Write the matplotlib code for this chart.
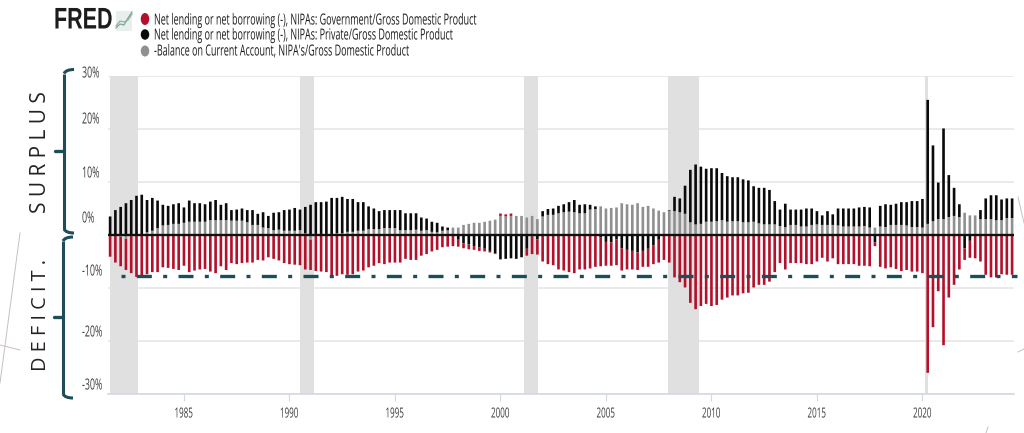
import matplotlib
matplotlib.use('Agg')
import matplotlib.pyplot as plt
import matplotlib.patheffects as pe
import numpy as np
from matplotlib.patches import Ellipse, PathPatch, Rectangle
from matplotlib.path import Path
from matplotlib.transforms import Affine2D

# quarterly, percent of GDP, first bar = 1981 Q3
gov = [-3.9,-5.0,-5.6,-5.9,-7.0,-7.9,-8.1,-7.4,-7.0,-7.0,-6.1,-6.2,-6.4,-6.6,-5.8,-7.0,-6.7,-6.5,-6.4,-6.9,-7.2,-5.9,-6.6,-5.3,-5.5,-5.3,-5.2,-5.2,-4.7,-4.8,
       -4.2,-4.5,-4.8,-5.3,-5.5,-5.6,-5.7,-6.5,-5.7,-6.8,-6.9,-7.0,-7.7,-7.7,-7.4,-7.5,-7.4,-6.9,-6.7,-6.1,-5.8,-5.3,-5.5,-5.2,-5.2,-5.2,-4.5,-4.7,-4.7,-3.9,
       -3.6,-3.1,-2.8,-2.3,-2.2,-2.1,-1.3,-0.9,-0.9,-0.7,-0.7,-0.5,-0.3,-0.1,0.45,0.4,0.45,0.0,0.0,-1.3,-3.3,-2.9,-5.0,-5.5,-5.7,-6.5,-6.7,-7.0,-7.2,-6.5,
       -6.5,-6.3,-6.0,-5.4,-4.5,-4.4,-4.9,-4.2,-3.7,-3.5,-3.3,-3.0,-3.4,-3.5,-4.3,-4.7,-5.2,-8.0,-8.9,-9.9,-12.8,-14.0,-13.4,-13.0,-13.4,-13.2,-12.2,-11.8,-11.4,-11.4,
       -11.0,-10.9,-9.9,-9.4,-9.4,-8.8,-7.0,-5.3,-6.5,-5.3,-5.3,-5.3,-5.5,-5.5,-5.0,-4.3,-5.0,-4.4,-5.5,-5.5,-5.5,-5.5,-5.8,-5.8,-5.9,-0.7,-6.0,-6.3,-6.1,-6.4,
       -6.8,-6.6,-6.9,-6.9,-7.2,-26.0,-17.4,-10.6,-20.8,-11.8,-9.4,-6.5,-2.2,-3.2,-4.4,-5.0,-7.5,-8.0,-8.0,-7.4,-7.5,-7.5]
private = [3.5,4.7,5.3,6.0,6.6,7.4,7.5,6.1,6.2,5.2,3.9,3.6,3.7,3.9,2.9,4.0,3.5,3.5,3.3,3.5,3.8,2.9,3.2,2.0,2.1,2.3,2.3,2.8,2.1,2.9,
           2.3,3.3,3.3,3.9,4.0,4.3,3.9,5.0,5.7,6.0,6.0,6.1,6.8,6.7,6.9,6.2,6.2,5.4,5.4,4.3,3.9,3.4,3.4,3.4,3.4,3.8,3.2,3.2,3.1,2.5,
           2.2,1.9,1.8,0.8,0.5,0.0,-0.9,-1.6,-1.8,-2.1,-2.3,-2.6,-3.0,-3.5,-4.6,-4.5,-4.4,-4.5,-4.2,-2.6,-0.3,-0.8,1.0,1.1,1.2,1.4,1.5,1.8,2.3,1.6,
           1.7,0.9,0.5,-0.5,-1.3,-1.4,-0.8,-2.5,-2.8,-3.0,-3.3,-3.0,-2.6,-2.0,-0.9,0.0,0.1,2.7,2.6,5.3,9.9,11.3,10.8,10.0,10.1,10.0,8.9,8.6,8.3,8.3,
           8.1,7.9,6.7,6.7,6.9,6.5,4.4,3.1,4.4,2.9,2.9,3.2,3.4,3.1,2.5,1.8,2.6,2.0,3.2,3.4,3.4,3.4,3.6,3.6,3.8,-1.4,3.9,4.3,3.8,4.0,
           4.3,4.4,4.9,4.9,5.4,23.4,14.3,6.9,17.1,7.9,5.3,2.4,-2.5,-1.1,0.0,1.7,3.9,4.5,4.7,3.9,3.7,3.7]
current = [-0.2,-0.2,-0.3,-0.7,-0.2,0.0,0.1,0.5,0.8,1.3,1.8,1.9,2.1,2.1,2.3,2.5,2.5,2.5,2.5,2.8,2.8,2.8,2.8,2.7,2.7,2.7,2.4,1.9,1.9,1.4,
           1.3,0.9,1.0,0.8,0.8,0.8,0.9,0.3,-0.9,0.2,0.2,0.2,0.2,0.3,0.3,0.6,0.6,0.8,0.8,1.1,1.1,1.1,1.3,1.3,1.3,0.9,0.9,0.9,1.0,0.8,
           0.9,0.6,0.5,0.8,0.9,1.4,1.4,1.9,2.1,2.3,2.3,2.5,2.7,2.9,3.6,3.5,3.6,3.6,3.6,3.3,3.6,3.0,3.5,3.8,3.8,4.1,4.3,4.4,4.3,4.1,
           4.1,4.8,4.9,5.4,5.0,5.1,5.2,6.0,5.8,5.7,6.0,5.3,5.5,5.0,4.6,4.3,4.6,4.5,4.3,4.0,2.4,2.0,2.1,2.5,2.5,2.6,2.8,2.5,2.6,2.6,
           2.4,2.4,2.5,2.2,2.0,2.0,2.0,1.7,1.5,1.9,1.9,1.6,1.6,1.9,2.0,1.9,1.9,1.9,1.8,1.6,1.6,1.6,1.6,1.7,1.4,1.4,1.6,1.5,1.9,1.9,
           1.9,1.8,1.5,1.5,1.4,2.1,2.6,3.0,3.0,3.4,3.6,3.4,4.2,3.7,3.7,3.0,3.0,3.0,2.8,2.8,3.2,3.2]
first_quarter = 1981.5
recessions = [(1981.49,1982.82),(1990.5,1991.16),(2001.13,2001.77),(2007.92,2009.4),(2020.1,2020.27)]
year_ticks = [1985,1990,1995,2000,2005,2010,2015,2020]
pct_ticks = [-30,-20,-10,0,10,20,30]
pct_labels = {30:74,20:120,10:174,0:219,-10:272,-20:333,-30:386}  # label heights in px, they sit off the gridlines
legend_names = ['Net lending or net borrowing (-), NIPAs: Government/Gross Domestic Product',
                'Net lending or net borrowing (-), NIPAs: Private/Gross Domestic Product',
                "-Balance on Current Account, NIPA's/Gross Domestic Product"]

RED = '#b4102b'
BLACK = '#0a0a0a'
GRAY = '#909090'
TEAL = '#1d4d59'
SANS = ['Open Sans', 'DejaVu Sans']

W, H = 1024, 433


class Squeeze(pe.AbstractPathEffect):
    # the reference uses a condensed face, none is installed, so narrow the glyphs
    def __init__(self, sx, dx=0):
        super().__init__()
        self.sx = sx
        self.dx = dx

    def draw_path(self, renderer, gc, tpath, affine, rgbFace=None):
        m = affine.get_matrix().copy()
        m[0, 0] *= self.sx
        m[0, 1] *= self.sx
        m[0, 2] += self.dx
        renderer.draw_path(gc, tpath, Affine2D(m), rgbFace)


fig = plt.figure(figsize=(W/100, H/100), dpi=100, facecolor='white')
ax = fig.add_axes([108/W, (H-394)/H, 906/W, 318/H])
ax.set_xlim(1981.40, 2024.34)
ax.set_ylim(-30, 30)

gov_a = np.array(gov)
pri_a = np.array(private)
cur_a = np.array(current)
xs = first_quarter + np.arange(len(gov_a))/4
bw = 0.125

for a, b in recessions:
    ax.axvspan(a, b, color='#e0e0e0', lw=0, zorder=1)
ax.set_yticks(pct_ticks)
ax.set_yticklabels([])
ax.grid(axis='y', color='#e6e6ea', lw=1.2, zorder=0)
ax.set_axisbelow(True)

# stacks grow outward from zero: gray, black, then red
pos_base = np.zeros(len(xs))
neg_base = np.zeros(len(xs))
for vals, col in [(cur_a, GRAY), (pri_a, BLACK), (gov_a, RED)]:
    up = np.clip(vals, 0, None)
    dn = np.clip(vals, None, 0)
    for bars in (ax.bar(xs, up, bw, bottom=pos_base, color=col, lw=0, zorder=3),
                 ax.bar(xs, dn, bw, bottom=neg_base, color=col, lw=0, zorder=3)):
        for p in bars:
            p.set_snap(False)
    pos_base += up
    neg_base += dn

ax.axhline(0, color='#101010', lw=1.7, zorder=5)
ax.plot([1982.03, 2024.5], [-7.83, -7.83], color=TEAL, lw=2.4, zorder=6, clip_on=False,
        dashes=(1.2, 3.4, 4.5, 3.4), dash_capstyle='butt')

for s in ['top', 'left', 'right']:
    ax.spines[s].set_visible(False)
ax.spines['bottom'].set_color('#d3d8e6')
ax.spines['bottom'].set_linewidth(1.2)
ax.tick_params(axis='y', length=0)
ax.set_xticks(year_ticks)
ax.set_xticklabels([str(y) for y in year_ticks], fontsize=10, family=SANS, color='#3c3c3c')
ax.tick_params(axis='x', length=5, color='#d3d8e6', pad=4)
for lab in ax.get_xticklabels():
    lab.set_path_effects([Squeeze(0.58, 6.5)])

# overlay in pixel coordinates for annotations
ov = fig.add_axes([0, 0, 1, 1], zorder=10)
ov.set_xlim(0, W)
ov.set_ylim(H, 0)
ov.axis('off')
ov.patch.set_alpha(0)

for v in pct_ticks:
    ov.text(82, pct_labels[v], f'{v}%', fontsize=11, family=SANS, color='#3c3c3c', va='center', ha='left',
            path_effects=[Squeeze(0.58)])

# logo
ov.text(54, 20.5, 'FRED', fontsize=21.5, fontweight='bold', family=['Liberation Sans', 'DejaVu Sans'],
        color='#1c1c1c', va='center', ha='left', path_effects=[Squeeze(0.72)])
ov.add_patch(Rectangle((116, 11), 16, 20, color='#e9eeee', lw=0))
ov.plot([116, 120, 124, 128, 132], [28, 24, 25, 18, 12], color='#7fa3a8', lw=0.9)
ov.plot([116, 120, 124, 128, 132], [26, 21, 22, 20, 14], color='#8fb58c', lw=0.9)

# legend
for dot_y, text_y, dot_h, col, name in zip([19, 34.5, 51], [21, 36, 52], [12, 10.5, 11], [RED, BLACK, GRAY], legend_names):
    ov.add_patch(Ellipse((145, dot_y), 8.5, dot_h, color=col, lw=0))
    ov.text(154, text_y, name, fontsize=11, family=SANS, color='#1c1c1c', va='center', ha='left',
            path_effects=[Squeeze(0.587)])


def brace(top, mid, bottom, vx):
    ov.add_patch(PathPatch(Path([(vx+10, top), (vx+2, top), (vx, top+4)],
                                [Path.MOVETO, Path.CURVE3, Path.CURVE3]), fc='none', ec=TEAL, lw=2.2))
    ov.plot([vx, vx], [top+4, bottom-4], color=TEAL, lw=2.2, solid_capstyle='butt')
    ov.add_patch(PathPatch(Path([(vx, bottom-4), (vx+2, bottom), (vx+10, bottom)],
                                [Path.MOVETO, Path.CURVE3, Path.CURVE3]), fc='none', ec=TEAL, lw=2.2))
    ov.plot([vx-9, vx], [mid, mid], color=TEAL, lw=2.4, solid_capstyle='round')


brace(69.5, 151, 233, 64)
brace(237, 317, 398, 63)

ov.text(41, 152, 'S U R P L U S', rotation=90, fontsize=15, family=SANS,
        color='#222222', va='center', ha='center')
ov.text(41, 315, 'D E F I C I T .', rotation=90, fontsize=14.3, family=SANS,
        color='#222222', va='center', ha='center')

# thin stray strokes of the page background
for seg in [((20, 233), (0, 383)), ((20, 350), (0, 345)), ((1018, 197), (1024, 223)),
            ((1018, 352), (1024, 349)), ((988, 427), (986, 433))]:
    ov.plot([seg[0][0], seg[1][0]], [seg[0][1], seg[1][1]], color='#c9bfc0', lw=0.7)

fig.savefig('out.png', dpi=100)
